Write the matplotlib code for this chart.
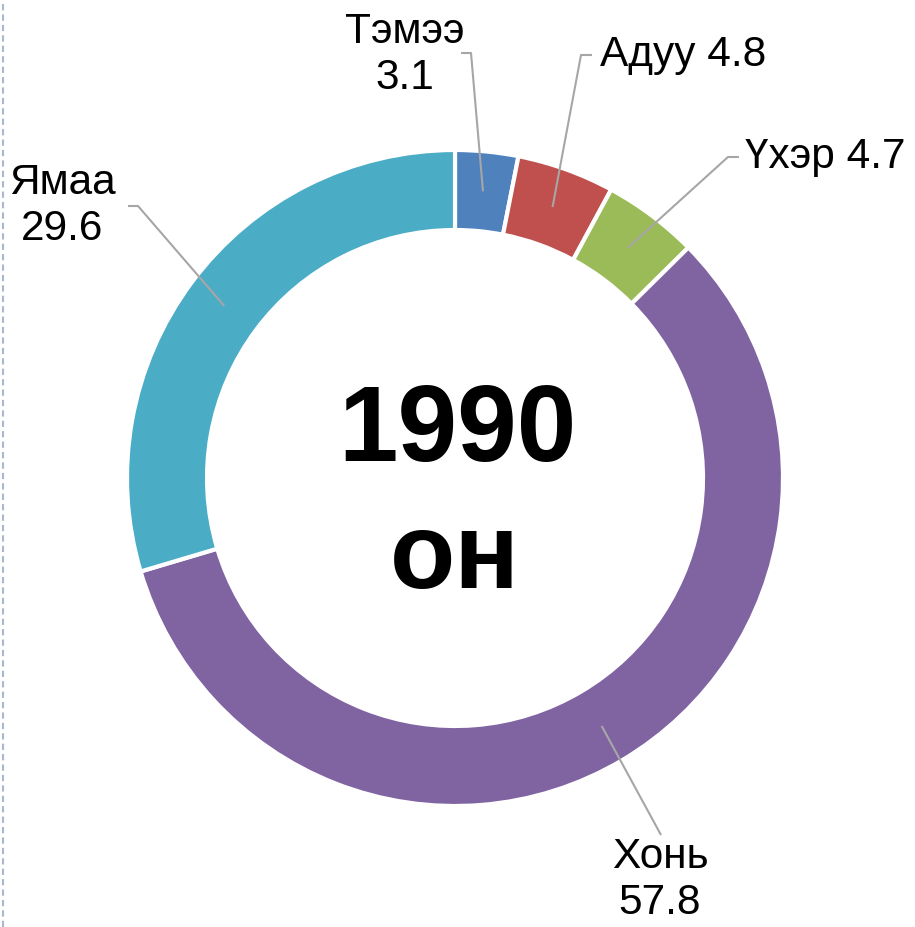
import matplotlib.pyplot as plt
import numpy as np

plt.rcParams['font.family'] = ['Liberation Sans', 'DejaVu Sans']

# данные 1990 он
names = ['Тэмээ', 'Адуу', 'Үхэр', 'Хонь', 'Ямаа']
values = [3.1, 4.8, 4.7, 57.8, 29.6]
colors = ['#4F81BD', '#C0504D', '#9BBB59', '#8064A2', '#4BACC6']
year_label = '1990'
year_suffix = 'он'

W, H = 915, 927
fig = plt.figure(figsize=(W / 100, H / 100), dpi=100, facecolor='white')
ax = fig.add_axes([0, 0, 1, 1])

cx, cy = 455, H - 478
R = 328
width = 80

wedges, _ = ax.pie(values, colors=colors, startangle=90, counterclock=False,
                   center=(cx, cy), radius=R, frame=True,
                   wedgeprops=dict(width=width, edgecolor='white', linewidth=3))
ax.set_xlim(0, W)
ax.set_ylim(0, H)
ax.set_aspect('equal')
ax.axis('off')

# подписи: (позиция текста, точка излома линии, конец горизонтали, выравнивание)
label_pos = [
    ((405, 55), (471, 53), (461, 53), 'center'),
    ((600, 55), (581, 55), (592, 55), 'left'),
    ((745, 157), (728, 157), (739, 157), 'left'),
    ((660, 880), (661, 835), None, 'center'),
    ((62, 206), (138, 206), (128, 206), 'center'),
]
lc = '#A6A6A6'
for w, name, val, (tpos, bend, hend, ha) in zip(wedges, names, values, label_pos):
    ang = np.deg2rad((w.theta1 + w.theta2) / 2)
    rm = R - width / 2
    px, py = cx + rm * np.cos(ang), cy + rm * np.sin(ang)
    xs = [px, bend[0]]
    ys = [py, H - bend[1]]
    if hend is not None:
        xs.append(hend[0])
        ys.append(H - hend[1])
    ax.plot(xs, ys, color=lc, lw=1.5, solid_capstyle='butt')
    if ha == 'left':
        txt = f'{name} {val}'
    else:
        txt = f'{name}\n{val}'
    ax.text(tpos[0], H - tpos[1], txt, fontsize=30.5, ha=ha, va='center',
            multialignment='center', linespacing=1.2, color='black')

ax.text(cx + 2, H - 433, year_label, fontsize=77, fontweight='bold', ha='center', va='center')
ax.text(cx, H - 560, year_suffix, fontsize=77, fontweight='bold', ha='center', va='center')

# пунктир по левому краю
fig.add_artist(plt.Line2D([2.5 / W, 2.5 / W], [0, 1], color='#A9B8D0', lw=1.5,
                          linestyle=(0, (3, 2))))

plt.savefig('out.png', dpi=100, facecolor='white')
